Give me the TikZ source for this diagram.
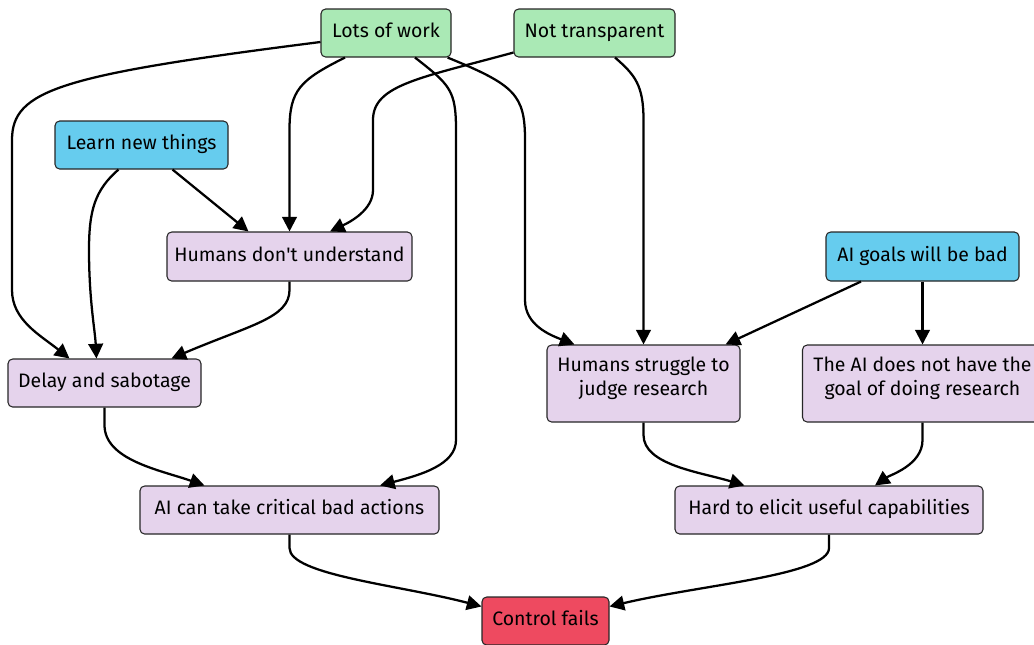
\documentclass[tikz,border=0pt]{standalone}
\usepackage{fontspec}
\setmainfont{Fira Sans}
\usetikzlibrary{arrows.meta,calc}
\definecolor{cgreen}{RGB}{170,233,181}
\definecolor{cblue}{RGB}{102,204,238}
\definecolor{cpurple}{RGB}{229,211,236}
\definecolor{cred}{RGB}{238,74,96}
\tikzset{
  box/.style 2 args={draw=black!85, line width=0.8pt, rounded corners=3.5pt,
    minimum width=#1*0.75pt, minimum height=#2*0.75pt, inner sep=0pt,
    text height=10pt, text depth=3pt,
    align=center, font=\fontsize{14.6}{18}\selectfont},
  twoline/.style={text height=28pt, text depth=9.5pt},
  edge/.style={line width=1.7pt, -{Triangle[length=11pt,width=11pt]}}
}
\begin{document}
\begin{tikzpicture}[x=0.75pt,y=-0.75pt]
\useasboundingbox (0,0) rectangle (1034,644);
\node[box={130}{48}, fill=cgreen] (lots) at (386,33) {Lots of work};
\node[box={161}{48}, fill=cgreen] (nt) at (594.5,33) {Not transparent};
\node[box={173}{48}, fill=cblue] (lnt) at (141.5,145) {Learn new things};
\node[box={245}{49}, fill=cpurple] (hdu) at (289.5,256.5) {Humans don\textquotesingle t understand};
\node[box={193}{49}, fill=cblue] (aig) at (922.5,256.5) {AI goals will be bad};
\node[box={193}{48}, fill=cpurple] (delay) at (104.5,383) {Delay and sabotage};
\node[box={193}{77}, twoline, fill=cpurple] (hsr) at (643.5,383.5) {Humans struggle to\\judge research};
\node[box={240}{77}, twoline, fill=cpurple] (tad) at (922.5,383.5) {The AI does not have the\\goal of doing research};
\node[box={299}{48}, fill=cpurple] (aican) at (289.5,510) {AI can take critical bad actions};
\node[box={308}{48}, fill=cpurple] (hard) at (829,510) {Hard to elicit useful capabilities};
\node[box={127}{48}, fill=cred] (cf) at (545.5,621) {Control fails};

% Lots of work -> Delay
\draw[edge] ($(lots.west)+(0,9)$) .. controls (60,75) and (12,90) .. (12,140) -- (12,290) .. controls (12,320) and (40,335) .. ($(delay.north west)+(62,0)$);
% Lots of work -> Humans don't understand
\draw[edge] ($(lots.south)+(-41,0)$) .. controls (300,80) and (289.5,90) .. (289.5,130) -- (hdu.north);
% Lots of work -> AI can take
\draw[edge] ($(lots.south)+(29,0)$) .. controls (450,85) and (456,90) .. (456,130) -- (456,440) .. controls (456,465) and (420,475) .. ($(aican.north)+(90.5,0)$);
% Lots of work -> Humans struggle
\draw[edge] ($(lots.south east)+(-4,0)$) .. controls (515,85) and (525,95) .. (525,140) -- (525,300) .. controls (525,325) and (550,335) .. ($(hsr.north west)+(28,0)$);
% Not transparent -> Humans don't understand
\draw[edge] ($(nt.south west)+(0,-5)$) .. controls (420,78) and (373,85) .. (373,120) -- (373,190) .. controls (373,210) and (350,222) .. ($(hdu.north)+(40.5,0)$);
% Not transparent -> Humans struggle
\draw[edge] ($(nt.south)+(20.5,0)$) .. controls (635,75) and (643.5,85) .. (643.5,120) -- (hsr.north);
% Learn new things -> Humans don't understand
\draw[edge] ($(lnt.south)+(31,0)$) -- ($(hdu.north west)+(82,0)$);
% Learn new things -> Delay
\draw[edge] ($(lnt.south)+(-23,0)$) .. controls (95,190) and (89,210) .. (89,250) .. controls (89,300) and (95,330) .. ($(delay.north west)+(89,0)$);
% Humans don't understand -> Delay
\draw[edge] (hdu.south) -- (289.5,290) .. controls (289.5,318) and (250,325) .. ($(delay.north west)+(164,0)$);
% Delay -> AI can take
\draw[edge] (delay.south) -- (104.5,425) .. controls (104.5,460) and (160,470) .. ($(aican.north west)+(65,0)$);
% AI goals -> Humans struggle
\draw[edge] ($(aig.south)+(-61.5,0)$) -- ($(hsr.north east)+(-15,0)$);
% AI goals -> The AI does not
\draw[edge] (aig.south) -- (tad.north);
% Humans struggle -> Hard
\draw[edge] (hsr.south) -- (643.5,435) .. controls (643.5,465) and (700,472) .. ($(hard.north west)+(70,0)$);
% The AI does not -> Hard
\draw[edge] (tad.south) -- (922.5,440) .. controls (922.5,465) and (890,475) .. ($(hard.north)+(46,0)$);
% AI can take -> Control fails
\draw[edge] (aican.south) -- (289.5,548) .. controls (289.5,575) and (400,585) .. ($(cf.north west)+(0,10)$);
% Hard -> Control fails
\draw[edge] (hard.south) -- (829,548) .. controls (829,575) and (700,585) .. ($(cf.north east)+(0,10)$);
\end{tikzpicture}
\end{document}
